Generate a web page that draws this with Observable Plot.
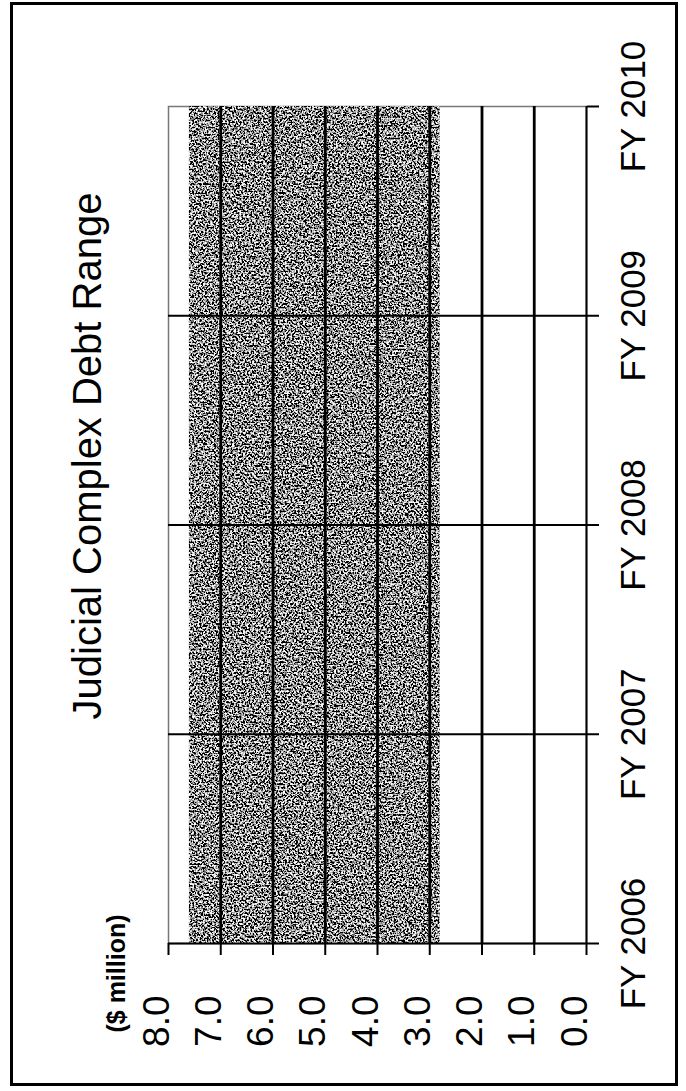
<!DOCTYPE html>
<html>
<head>
<meta charset="utf-8">
<script src="https://cdn.jsdelivr.net/npm/d3@7"></script>
<script src="https://cdn.jsdelivr.net/npm/@observablehq/plot@0.6"></script>
<style>
  html, body { margin: 0; padding: 0; background: #fff; }
  #wrap { position: relative; width: 686px; height: 1091px; overflow: hidden; }
  #border { position: absolute; left: 10px; top: 2px; width: 668px; height: 1084px; border: 3px solid #000; box-sizing: border-box; pointer-events: none; }
  svg { font-family: "Liberation Sans", Arial, sans-serif; }
</style>
</head>
<body>
<div id="wrap"><div id="border"></div></div>
<script>
// Data
const title = "Judicial Complex Debt Range";
const unitLabel = "($ million)";
const years = [2006, 2007, 2008, 2009, 2010];
const yearLabels = ["FY 2006", "FY 2007", "FY 2008", "FY 2009", "FY 2010"];
const debtLow = [2.8, 2.8, 2.8, 2.8, 2.8];
const debtHigh = [7.6, 7.6, 7.6, 7.6, 7.6];
const valueTicks = [0, 1, 2, 3, 4, 5, 6, 7, 8];

const rows = years.map((y, i) => ({year: y, label: yearLabels[i], low: debtLow[i], high: debtHigh[i]}));
const innerTicks = valueTicks.filter(v => v > 0 && v < 8);
const innerYears = years.filter(y => y > years[0] && y < years[years.length - 1]);

const chart = Plot.plot({
  width: 686,
  height: 1091,
  marginLeft: 168,
  marginRight: 100,
  marginTop: 106,
  marginBottom: 148,
  style: {fontFamily: "'Liberation Sans', Arial, sans-serif", background: "transparent"},
  x: {domain: [8, 0], axis: null, label: null},
  y: {domain: [years[0], years[years.length - 1]], axis: null, label: null},
  marks: [
    Plot.frame({stroke: "#777", strokeWidth: 1.5}),
    Plot.areaX(rows, {y: "year", x1: "low", x2: "high", fill: "#7a7a7a", curve: "linear"}),
    Plot.ruleX(innerTicks, {stroke: "#000", strokeWidth: 2.8}),
    Plot.ruleY(innerYears, {stroke: "#000", strokeWidth: 2}),
    Plot.ruleY([years[0]], {stroke: "#000", strokeWidth: 2}),
    Plot.ruleX([0], {stroke: "#000", strokeWidth: 2}),
    Plot.axisX({anchor: "bottom", ticks: valueTicks, tickSize: 12, tickFormat: () => "", label: null, stroke: "#000", strokeWidth: 2}),
    Plot.axisY({anchor: "right", ticks: years, tickSize: 12, tickFormat: () => "", label: null, stroke: "#000", strokeWidth: 2}),
    Plot.text(valueTicks, {x: d => d, text: d => d.toFixed(1), frameAnchor: "bottom", dy: 52, rotate: -90, textAnchor: "end", fontSize: 37, fill: "#000"}),
    Plot.text(rows, {y: "year", text: "label", frameAnchor: "right", dx: 47, rotate: -90, textAnchor: "middle", fontSize: 35, fill: "#000"}),
    Plot.text([unitLabel], {frameAnchor: "bottom-left", dx: -44, dy: 30, rotate: -90, textAnchor: "middle", fontSize: 25, fontWeight: "bold", fill: "#000"}),
    Plot.text([title], {frameAnchor: "left", dx: -80, dy: -69, rotate: -90, textAnchor: "middle", fontSize: 40, fill: "#000"})
  ]
});

// grainy halftone texture for the band, like the scanned original
const svg = d3.select(chart);
const defs = svg.insert("defs", ":first-child");
const f = defs.append("filter").attr("id", "grain").attr("x", 0).attr("y", 0).attr("width", 1).attr("height", 1);
f.append("feTurbulence").attr("type", "fractalNoise").attr("baseFrequency", 0.55).attr("numOctaves", 2).attr("seed", 7).attr("result", "n");
f.append("feColorMatrix").attr("in", "n").attr("type", "matrix")
  .attr("values", "4.5 0 0 0 -1.95  4.5 0 0 0 -1.95  4.5 0 0 0 -1.95  0 0 0 0 1").attr("result", "g");
f.append("feComposite").attr("in", "g").attr("in2", "SourceGraphic").attr("operator", "in");
svg.selectAll("g[aria-label='area'] path").attr("filter", "url(#grain)");

document.getElementById("wrap").prepend(chart);
</script>
</body>
</html>
